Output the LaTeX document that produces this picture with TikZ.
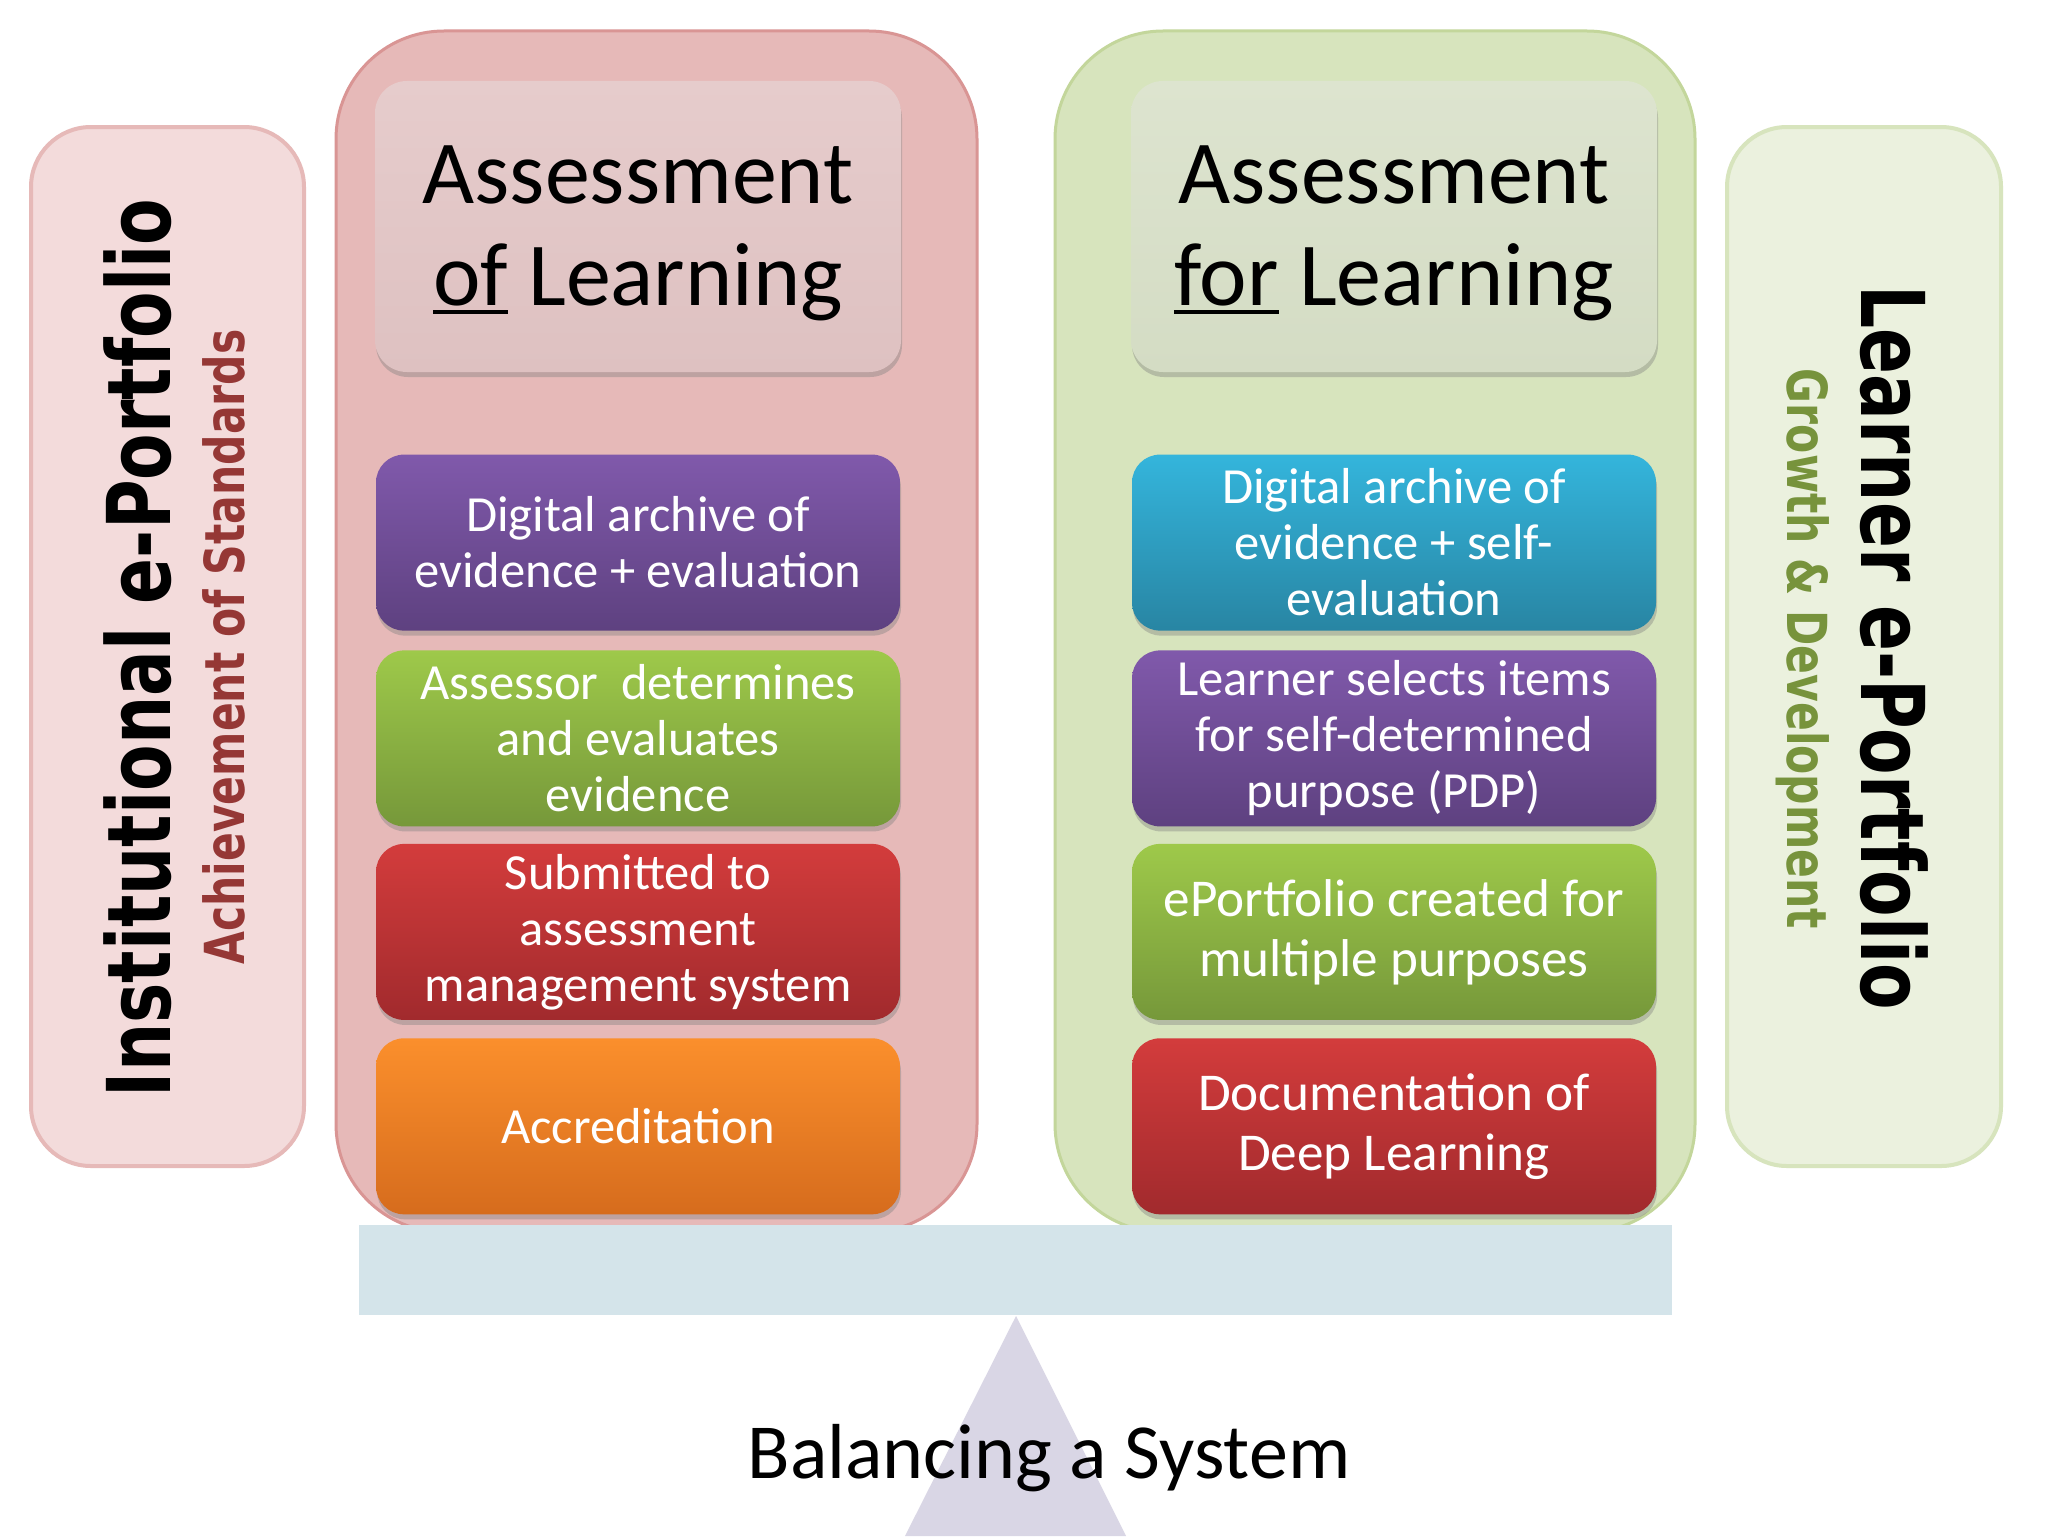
\documentclass[tikz,border=0pt]{standalone}
\usepackage{fontspec}
\setmainfont{Carlito}
\newfontfamily\vfont{DejaVu Sans}[FakeStretch=0.77]
\usetikzlibrary{shadows}
\definecolor{pinkpanel}{HTML}{E6B9B8}
\definecolor{pinkborder}{HTML}{D99594}
\definecolor{greenpanel}{HTML}{D7E4BD}
\definecolor{greenborder}{HTML}{C3D69B}
\definecolor{pinkside}{HTML}{F3DBDB}
\definecolor{pinksideb}{HTML}{E6B9B8}
\definecolor{greenside}{HTML}{EBF1DE}
\definecolor{greensideb}{HTML}{D7E4BD}
\definecolor{achc}{HTML}{953735}
\definecolor{growc}{HTML}{77933C}
\definecolor{beamc}{HTML}{D4E4EA}
\definecolor{tric}{HTML}{D9D6E5}
\definecolor{purT}{HTML}{8059AB}
\definecolor{purB}{HTML}{5E4180}
\definecolor{grnT}{HTML}{9EC94A}
\definecolor{grnB}{HTML}{76983A}
\definecolor{redT}{HTML}{D33C3C}
\definecolor{redB}{HTML}{A12A2D}
\definecolor{oraT}{HTML}{FB8F2C}
\definecolor{oraB}{HTML}{D66C1D}
\definecolor{cyaT}{HTML}{34B5DC}
\definecolor{cyaB}{HTML}{2885A3}
\definecolor{hLT}{HTML}{E6CCCC}
\definecolor{hLB}{HTML}{DEC1C1}
\definecolor{hRT}{HTML}{DDE4CF}
\definecolor{hRB}{HTML}{D4DCC4}
\newlength\ulw
\newcommand\myul[1]{\settowidth\ulw{#1}\makebox[0pt][l]{\rule[-0.1em]{\ulw}{0.05em}}#1}
\begin{document}
\begin{tikzpicture}[x=0.5pt,y=-0.5pt,
  panel/.style={rounded corners=54pt, line width=1.5pt},
  side/.style={rounded corners=30pt, line width=2pt},
  shad/.style={drop shadow={opacity=0.4, shadow xshift=0.5pt, shadow yshift=-2.5pt}},
  hdr/.style={shad, rounded corners=16pt, minimum width=263pt, minimum height=145.5pt, inner sep=0pt},
  hdrtxt/.style={align=center, inner sep=0pt, font=\fontsize{45}{51}\selectfont},
  cbox/.style={shad, rounded corners=14pt, minimum width=262pt, minimum height=88pt,
    align=center, inner sep=0pt, text=white, font=\fontsize{25.3}{28}\selectfont},
  bigtxt/.style={font=\fontsize{26.6}{30}\selectfont},
  purplebox/.style={cbox, top color=purT, bottom color=purB},
  greenbox/.style={cbox, top color=grnT, bottom color=grnB},
  redbox/.style={cbox, top color=redT, bottom color=redB},
  orangebox/.style={cbox, top color=oraT, bottom color=oraB},
  cyanbox/.style={cbox, top color=cyaT, bottom color=cyaB},
  vtitle/.style={anchor=base, font=\vfont\bfseries\fontsize{44}{44}\selectfont},
  vsub/.style={anchor=base, font=\vfont\bfseries\fontsize{27.6}{28}\selectfont}
]
\useasboundingbox (0,0) rectangle (2048,1536);
\fill[white] (0,0) rectangle (2048,1536);
% side panels
\draw[side, fill=pinkside, draw=pinksideb] (31,127) rectangle (304,1166);
\draw[side, fill=greenside, draw=greensideb] (1727,127) rectangle (2001,1166);
% big panels
\draw[panel, fill=pinkpanel, draw=pinkborder] (336,31) rectangle (977,1232);
\draw[panel, fill=greenpanel, draw=greenborder] (1055,31) rectangle (1695,1232);
% headers
\node[hdr, top color=hLT, bottom color=hLB] (hL) at (638,226.5) {};
\node[hdrtxt] (hLt) at ([yshift=-3.3pt]hL.center) {Assessment\\\myul{of} Learning};
\node[hdr, top color=hRT, bottom color=hRB] (hR) at (1394,226.5) {};
\node[hdrtxt] (hRt) at ([yshift=-3.3pt]hR.center) {Assessment\\\myul{for} Learning};
% left boxes
\node[purplebox] (l1) at (638,542.6) {Digital archive of\\evidence + evaluation};
\node[greenbox] (l2) at (638,738.4) {Assessor~~determines\\and evaluates\\evidence};
\node[redbox] (l3) at (638,931.9) {Submitted to\\assessment\\management system};
\node[orangebox] (l4) at (638,1126.3) {Accreditation};
% right boxes
\node[cyanbox] (r1) at (1394,542.6) {Digital archive of\\evidence + self-\\evaluation};
\node[purplebox] (r2) at (1394,738.4) {Learner selects items\\for self-determined\\purpose (PDP)};
\node[greenbox, bigtxt] (r3) at (1394,931.9) {ePortfolio created for\\multiple purposes};
\node[redbox, bigtxt] (r4) at (1394,1126.3) {Documentation of\\Deep Learning};
% fulcrum and beam
\fill[tric] (1016,1316) -- (905,1536) -- (1126,1536) -- cycle;
\fill[beamc] (359,1225) rectangle (1672,1315);
% vertical titles
\node[vtitle, rotate=90] (inst) at (170,648) {Institutional e-Portfolio};
\node[vsub, rotate=90, text=achc] (ach) at (244,647) {Achievement of Standards};
\node[vtitle, rotate=-90] (learn) at (1861,648) {Learner e-Portfolio};
\node[vsub, rotate=-90, text=growc] (grow) at (1787,649) {Growth \& Development};
% caption
\node[anchor=base, font=\fontsize{39}{39}\selectfont] (cap) at (1049,1478) {Balancing a System};
\end{tikzpicture}
\end{document}
